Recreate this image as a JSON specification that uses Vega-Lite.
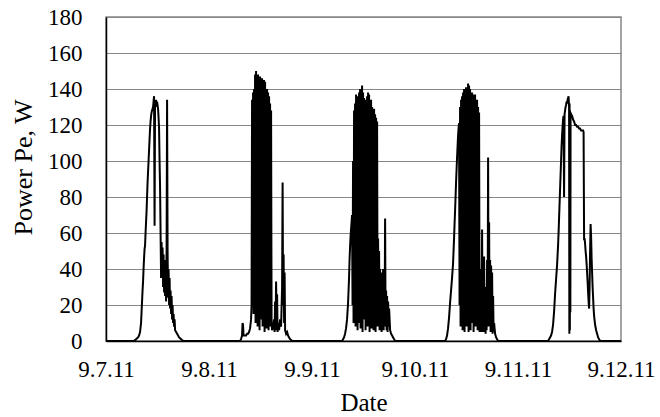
{
"$schema": "https://vega.github.io/schema/vega-lite/v6.json",
"width": 515, "height": 324,
"autosize": {"type": "none"},
"padding": {"left": 106, "top": 17, "right": 39, "bottom": 76},
"background": "white",
"config": {"view": {"stroke": "#878787", "strokeWidth": 1.5}, "font": "Liberation Serif"},
"data": {"values": [
{"t":"2011-09-07T00:00","p":0},{"t":"2011-09-07T06:32","p":0},{"t":"2011-09-07T06:46","p":0.5},{"t":"2011-09-07T07:00","p":1},{"t":"2011-09-07T07:14","p":1.5},{"t":"2011-09-07T07:28","p":2},{"t":"2011-09-07T07:42","p":3},{"t":"2011-09-07T07:56","p":5},{"t":"2011-09-07T08:10","p":10},{"t":"2011-09-07T08:17","p":16},{"t":"2011-09-07T08:24","p":22},{"t":"2011-09-07T08:31","p":28},{"t":"2011-09-07T08:38","p":33},{"t":"2011-09-07T08:45","p":40},{"t":"2011-09-07T08:52","p":46},{"t":"2011-09-07T08:59","p":51},{"t":"2011-09-07T09:06","p":53},{"t":"2011-09-07T09:13","p":60},{"t":"2011-09-07T09:20","p":66},{"t":"2011-09-07T09:27","p":72},{"t":"2011-09-07T09:34","p":80},{"t":"2011-09-07T09:41","p":88},{"t":"2011-09-07T09:48","p":94},{"t":"2011-09-07T09:55","p":100},{"t":"2011-09-07T10:02","p":106},{"t":"2011-09-07T10:09","p":112},{"t":"2011-09-07T10:16","p":118},{"t":"2011-09-07T10:23","p":122},{"t":"2011-09-07T10:30","p":125},{"t":"2011-09-07T10:37","p":127},{"t":"2011-09-07T10:44","p":128},{"t":"2011-09-07T10:51","p":129},{"t":"2011-09-07T10:58","p":130},{"t":"2011-09-07T11:05","p":133},{"t":"2011-09-07T11:12","p":136},{"t":"2011-09-07T11:19","p":64},{"t":"2011-09-07T11:26","p":134},{"t":"2011-09-07T11:33","p":132},{"t":"2011-09-07T11:40","p":134},{"t":"2011-09-07T11:47","p":130},{"t":"2011-09-07T11:54","p":133},{"t":"2011-09-07T12:01","p":131},{"t":"2011-09-07T12:08","p":129},{"t":"2011-09-07T12:15","p":124},{"t":"2011-09-07T12:22","p":118},{"t":"2011-09-07T12:29","p":100},{"t":"2011-09-07T12:36","p":85},{"t":"2011-09-07T12:43","p":60},{"t":"2011-09-07T12:50","p":35},{"t":"2011-09-07T12:57","p":55},{"t":"2011-09-07T13:04","p":40},{"t":"2011-09-07T13:11","p":52},{"t":"2011-09-07T13:18","p":30},{"t":"2011-09-07T13:25","p":48},{"t":"2011-09-07T13:32","p":27},{"t":"2011-09-07T13:39","p":45},{"t":"2011-09-07T13:46","p":25},{"t":"2011-09-07T13:53","p":40},{"t":"2011-09-07T14:00","p":22},{"t":"2011-09-07T14:07","p":50},{"t":"2011-09-07T14:14","p":134},{"t":"2011-09-07T14:21","p":50},{"t":"2011-09-07T14:28","p":24},{"t":"2011-09-07T14:35","p":40},{"t":"2011-09-07T14:42","p":20},{"t":"2011-09-07T14:49","p":35},{"t":"2011-09-07T14:56","p":18},{"t":"2011-09-07T15:03","p":28},{"t":"2011-09-07T15:10","p":15},{"t":"2011-09-07T15:17","p":25},{"t":"2011-09-07T15:24","p":12},{"t":"2011-09-07T15:31","p":20},{"t":"2011-09-07T15:38","p":10},{"t":"2011-09-07T15:45","p":15},{"t":"2011-09-07T15:52","p":8},{"t":"2011-09-07T15:59","p":12},{"t":"2011-09-07T16:06","p":6},{"t":"2011-09-07T16:20","p":5},{"t":"2011-09-07T16:34","p":4},{"t":"2011-09-07T16:48","p":3},{"t":"2011-09-07T17:02","p":2},{"t":"2011-09-07T17:16","p":1.5},{"t":"2011-09-07T17:30","p":1},{"t":"2011-09-07T17:44","p":0.5},{"t":"2011-09-07T17:58","p":0},
{"t":"2011-09-08T07:14","p":0},{"t":"2011-09-08T07:28","p":1},{"t":"2011-09-08T07:42","p":3},{"t":"2011-09-08T07:49","p":10},{"t":"2011-09-08T07:56","p":9},{"t":"2011-09-08T08:03","p":3},{"t":"2011-09-08T08:10","p":3},{"t":"2011-09-08T08:24","p":3},{"t":"2011-09-08T08:38","p":3},{"t":"2011-09-08T08:52","p":4},{"t":"2011-09-08T09:06","p":4},{"t":"2011-09-08T09:20","p":5},{"t":"2011-09-08T09:34","p":7},{"t":"2011-09-08T09:48","p":12},{"t":"2011-09-08T09:55","p":20},{"t":"2011-09-08T10:02","p":134},{"t":"2011-09-08T10:09","p":40},{"t":"2011-09-08T10:16","p":138},{"t":"2011-09-08T10:23","p":15},{"t":"2011-09-08T10:30","p":140},{"t":"2011-09-08T10:37","p":30},{"t":"2011-09-08T10:44","p":148},{"t":"2011-09-08T10:51","p":10},{"t":"2011-09-08T10:58","p":150},{"t":"2011-09-08T11:05","p":20},{"t":"2011-09-08T11:12","p":145},{"t":"2011-09-08T11:19","p":8},{"t":"2011-09-08T11:26","p":148},{"t":"2011-09-08T11:33","p":25},{"t":"2011-09-08T11:40","p":142},{"t":"2011-09-08T11:47","p":6},{"t":"2011-09-08T11:54","p":147},{"t":"2011-09-08T12:01","p":12},{"t":"2011-09-08T12:08","p":140},{"t":"2011-09-08T12:15","p":30},{"t":"2011-09-08T12:22","p":146},{"t":"2011-09-08T12:29","p":8},{"t":"2011-09-08T12:36","p":135},{"t":"2011-09-08T12:43","p":15},{"t":"2011-09-08T12:50","p":145},{"t":"2011-09-08T12:57","p":5},{"t":"2011-09-08T13:04","p":144},{"t":"2011-09-08T13:11","p":20},{"t":"2011-09-08T13:18","p":130},{"t":"2011-09-08T13:25","p":7},{"t":"2011-09-08T13:32","p":140},{"t":"2011-09-08T13:39","p":12},{"t":"2011-09-08T13:46","p":138},{"t":"2011-09-08T13:53","p":6},{"t":"2011-09-08T14:00","p":136},{"t":"2011-09-08T14:07","p":18},{"t":"2011-09-08T14:14","p":132},{"t":"2011-09-08T14:21","p":8},{"t":"2011-09-08T14:28","p":128},{"t":"2011-09-08T14:35","p":10},{"t":"2011-09-08T14:42","p":6},{"t":"2011-09-08T14:56","p":8},{"t":"2011-09-08T15:10","p":12},{"t":"2011-09-08T15:17","p":5},{"t":"2011-09-08T15:24","p":22},{"t":"2011-09-08T15:31","p":6},{"t":"2011-09-08T15:38","p":33},{"t":"2011-09-08T15:45","p":8},{"t":"2011-09-08T15:52","p":26},{"t":"2011-09-08T15:59","p":5},{"t":"2011-09-08T16:06","p":10},{"t":"2011-09-08T16:20","p":6},{"t":"2011-09-08T16:34","p":12},{"t":"2011-09-08T16:48","p":8},{"t":"2011-09-08T17:02","p":30},{"t":"2011-09-08T17:09","p":88},{"t":"2011-09-08T17:16","p":20},{"t":"2011-09-08T17:23","p":48},{"t":"2011-09-08T17:30","p":10},{"t":"2011-09-08T17:37","p":38},{"t":"2011-09-08T17:44","p":6},{"t":"2011-09-08T17:58","p":4},{"t":"2011-09-08T18:12","p":5},{"t":"2011-09-08T18:26","p":3},{"t":"2011-09-08T18:40","p":2},{"t":"2011-09-08T18:54","p":1},{"t":"2011-09-08T19:08","p":0.5},{"t":"2011-09-08T19:22","p":0},
{"t":"2011-09-09T07:00","p":0},{"t":"2011-09-09T07:14","p":1},{"t":"2011-09-09T07:28","p":2},{"t":"2011-09-09T07:42","p":4},{"t":"2011-09-09T07:56","p":7},{"t":"2011-09-09T08:10","p":12},{"t":"2011-09-09T08:24","p":21},{"t":"2011-09-09T08:38","p":35},{"t":"2011-09-09T08:45","p":45},{"t":"2011-09-09T08:52","p":52},{"t":"2011-09-09T08:59","p":58},{"t":"2011-09-09T09:06","p":62},{"t":"2011-09-09T09:13","p":66},{"t":"2011-09-09T09:20","p":70},{"t":"2011-09-09T09:27","p":20},{"t":"2011-09-09T09:34","p":100},{"t":"2011-09-09T09:41","p":10},{"t":"2011-09-09T09:48","p":128},{"t":"2011-09-09T09:55","p":25},{"t":"2011-09-09T10:02","p":132},{"t":"2011-09-09T10:09","p":8},{"t":"2011-09-09T10:16","p":137},{"t":"2011-09-09T10:23","p":15},{"t":"2011-09-09T10:30","p":130},{"t":"2011-09-09T10:37","p":6},{"t":"2011-09-09T10:44","p":136},{"t":"2011-09-09T10:51","p":35},{"t":"2011-09-09T10:58","p":138},{"t":"2011-09-09T11:05","p":10},{"t":"2011-09-09T11:12","p":140},{"t":"2011-09-09T11:19","p":7},{"t":"2011-09-09T11:26","p":139},{"t":"2011-09-09T11:33","p":20},{"t":"2011-09-09T11:40","p":142},{"t":"2011-09-09T11:47","p":5},{"t":"2011-09-09T11:54","p":138},{"t":"2011-09-09T12:01","p":12},{"t":"2011-09-09T12:08","p":135},{"t":"2011-09-09T12:15","p":30},{"t":"2011-09-09T12:22","p":134},{"t":"2011-09-09T12:29","p":6},{"t":"2011-09-09T12:36","p":130},{"t":"2011-09-09T12:43","p":15},{"t":"2011-09-09T12:50","p":136},{"t":"2011-09-09T12:57","p":8},{"t":"2011-09-09T13:04","p":138},{"t":"2011-09-09T13:11","p":25},{"t":"2011-09-09T13:18","p":137},{"t":"2011-09-09T13:25","p":5},{"t":"2011-09-09T13:32","p":132},{"t":"2011-09-09T13:39","p":12},{"t":"2011-09-09T13:46","p":134},{"t":"2011-09-09T13:53","p":7},{"t":"2011-09-09T14:00","p":130},{"t":"2011-09-09T14:07","p":20},{"t":"2011-09-09T14:14","p":128},{"t":"2011-09-09T14:21","p":6},{"t":"2011-09-09T14:28","p":129},{"t":"2011-09-09T14:35","p":10},{"t":"2011-09-09T14:42","p":126},{"t":"2011-09-09T14:49","p":5},{"t":"2011-09-09T14:56","p":124},{"t":"2011-09-09T15:03","p":15},{"t":"2011-09-09T15:10","p":122},{"t":"2011-09-09T15:17","p":8},{"t":"2011-09-09T15:24","p":57},{"t":"2011-09-09T15:31","p":10},{"t":"2011-09-09T15:38","p":50},{"t":"2011-09-09T15:45","p":6},{"t":"2011-09-09T15:52","p":40},{"t":"2011-09-09T15:59","p":12},{"t":"2011-09-09T16:06","p":38},{"t":"2011-09-09T16:13","p":5},{"t":"2011-09-09T16:20","p":32},{"t":"2011-09-09T16:27","p":8},{"t":"2011-09-09T16:34","p":40},{"t":"2011-09-09T16:41","p":6},{"t":"2011-09-09T16:48","p":30},{"t":"2011-09-09T16:55","p":10},{"t":"2011-09-09T17:02","p":68},{"t":"2011-09-09T17:09","p":8},{"t":"2011-09-09T17:16","p":28},{"t":"2011-09-09T17:23","p":6},{"t":"2011-09-09T17:30","p":25},{"t":"2011-09-09T17:37","p":5},{"t":"2011-09-09T17:44","p":22},{"t":"2011-09-09T17:51","p":8},{"t":"2011-09-09T17:58","p":18},{"t":"2011-09-09T18:12","p":6},{"t":"2011-09-09T18:26","p":4},{"t":"2011-09-09T18:40","p":3},{"t":"2011-09-09T18:54","p":2},{"t":"2011-09-09T19:08","p":1},{"t":"2011-09-09T19:22","p":0},
{"t":"2011-09-10T07:00","p":0},{"t":"2011-09-10T07:14","p":1},{"t":"2011-09-10T07:28","p":3},{"t":"2011-09-10T07:42","p":7},{"t":"2011-09-10T07:56","p":13},{"t":"2011-09-10T08:10","p":21},{"t":"2011-09-10T08:24","p":28},{"t":"2011-09-10T08:38","p":35},{"t":"2011-09-10T08:52","p":43},{"t":"2011-09-10T08:59","p":50},{"t":"2011-09-10T09:06","p":57},{"t":"2011-09-10T09:13","p":65},{"t":"2011-09-10T09:20","p":72},{"t":"2011-09-10T09:27","p":80},{"t":"2011-09-10T09:34","p":88},{"t":"2011-09-10T09:41","p":95},{"t":"2011-09-10T09:48","p":102},{"t":"2011-09-10T09:55","p":108},{"t":"2011-09-10T10:02","p":114},{"t":"2011-09-10T10:09","p":118},{"t":"2011-09-10T10:16","p":121},{"t":"2011-09-10T10:23","p":20},{"t":"2011-09-10T10:30","p":130},{"t":"2011-09-10T10:37","p":8},{"t":"2011-09-10T10:44","p":134},{"t":"2011-09-10T10:51","p":25},{"t":"2011-09-10T10:58","p":136},{"t":"2011-09-10T11:05","p":6},{"t":"2011-09-10T11:12","p":138},{"t":"2011-09-10T11:19","p":15},{"t":"2011-09-10T11:26","p":140},{"t":"2011-09-10T11:33","p":5},{"t":"2011-09-10T11:40","p":137},{"t":"2011-09-10T11:47","p":30},{"t":"2011-09-10T11:54","p":141},{"t":"2011-09-10T12:01","p":8},{"t":"2011-09-10T12:08","p":139},{"t":"2011-09-10T12:15","p":12},{"t":"2011-09-10T12:22","p":143},{"t":"2011-09-10T12:29","p":5},{"t":"2011-09-10T12:36","p":142},{"t":"2011-09-10T12:43","p":20},{"t":"2011-09-10T12:50","p":140},{"t":"2011-09-10T12:57","p":6},{"t":"2011-09-10T13:04","p":136},{"t":"2011-09-10T13:11","p":10},{"t":"2011-09-10T13:18","p":138},{"t":"2011-09-10T13:25","p":25},{"t":"2011-09-10T13:32","p":137},{"t":"2011-09-10T13:39","p":5},{"t":"2011-09-10T13:46","p":135},{"t":"2011-09-10T13:53","p":15},{"t":"2011-09-10T14:00","p":137},{"t":"2011-09-10T14:07","p":8},{"t":"2011-09-10T14:14","p":132},{"t":"2011-09-10T14:21","p":40},{"t":"2011-09-10T14:28","p":134},{"t":"2011-09-10T14:35","p":6},{"t":"2011-09-10T14:42","p":130},{"t":"2011-09-10T14:49","p":12},{"t":"2011-09-10T14:56","p":127},{"t":"2011-09-10T15:03","p":5},{"t":"2011-09-10T15:10","p":40},{"t":"2011-09-10T15:17","p":8},{"t":"2011-09-10T15:24","p":20},{"t":"2011-09-10T15:31","p":5},{"t":"2011-09-10T15:38","p":62},{"t":"2011-09-10T15:45","p":10},{"t":"2011-09-10T15:52","p":35},{"t":"2011-09-10T15:59","p":5},{"t":"2011-09-10T16:06","p":47},{"t":"2011-09-10T16:13","p":8},{"t":"2011-09-10T16:20","p":25},{"t":"2011-09-10T16:27","p":4},{"t":"2011-09-10T16:34","p":30},{"t":"2011-09-10T16:41","p":6},{"t":"2011-09-10T16:48","p":45},{"t":"2011-09-10T16:55","p":8},{"t":"2011-09-10T17:02","p":102},{"t":"2011-09-10T17:09","p":10},{"t":"2011-09-10T17:16","p":66},{"t":"2011-09-10T17:23","p":8},{"t":"2011-09-10T17:30","p":45},{"t":"2011-09-10T17:37","p":5},{"t":"2011-09-10T17:44","p":42},{"t":"2011-09-10T17:51","p":6},{"t":"2011-09-10T17:58","p":38},{"t":"2011-09-10T18:05","p":4},{"t":"2011-09-10T18:12","p":25},{"t":"2011-09-10T18:19","p":5},{"t":"2011-09-10T18:26","p":10},{"t":"2011-09-10T18:40","p":4},{"t":"2011-09-10T18:54","p":2},{"t":"2011-09-10T19:08","p":1},{"t":"2011-09-10T19:22","p":0},
{"t":"2011-09-11T07:00","p":0},{"t":"2011-09-11T07:14","p":1},{"t":"2011-09-11T07:28","p":2},{"t":"2011-09-11T07:42","p":3},{"t":"2011-09-11T07:56","p":5},{"t":"2011-09-11T08:10","p":9},{"t":"2011-09-11T08:24","p":16},{"t":"2011-09-11T08:38","p":26},{"t":"2011-09-11T08:52","p":34},{"t":"2011-09-11T09:06","p":42},{"t":"2011-09-11T09:20","p":53},{"t":"2011-09-11T09:27","p":60},{"t":"2011-09-11T09:34","p":68},{"t":"2011-09-11T09:41","p":76},{"t":"2011-09-11T09:48","p":84},{"t":"2011-09-11T09:55","p":92},{"t":"2011-09-11T10:02","p":100},{"t":"2011-09-11T10:09","p":108},{"t":"2011-09-11T10:16","p":114},{"t":"2011-09-11T10:23","p":119},{"t":"2011-09-11T10:30","p":123},{"t":"2011-09-11T10:37","p":125},{"t":"2011-09-11T10:44","p":80},{"t":"2011-09-11T10:51","p":126},{"t":"2011-09-11T10:58","p":128},{"t":"2011-09-11T11:05","p":130},{"t":"2011-09-11T11:12","p":131},{"t":"2011-09-11T11:19","p":133},{"t":"2011-09-11T11:26","p":132},{"t":"2011-09-11T11:33","p":134},{"t":"2011-09-11T11:40","p":135},{"t":"2011-09-11T11:47","p":136},{"t":"2011-09-11T11:54","p":130},{"t":"2011-09-11T11:58","p":4},{"t":"2011-09-11T12:01","p":132},{"t":"2011-09-11T12:05","p":6},{"t":"2011-09-11T12:08","p":128},{"t":"2011-09-11T12:12","p":16},{"t":"2011-09-11T12:15","p":127},{"t":"2011-09-11T12:22","p":126},{"t":"2011-09-11T12:36","p":125},{"t":"2011-09-11T12:50","p":123},{"t":"2011-09-11T13:04","p":122},{"t":"2011-09-11T13:18","p":120},{"t":"2011-09-11T13:32","p":120},{"t":"2011-09-11T13:46","p":119},{"t":"2011-09-11T14:00","p":119},{"t":"2011-09-11T14:14","p":118},{"t":"2011-09-11T14:28","p":118},{"t":"2011-09-11T14:42","p":117},{"t":"2011-09-11T14:56","p":117},{"t":"2011-09-11T15:10","p":117},{"t":"2011-09-11T15:17","p":116},{"t":"2011-09-11T15:24","p":56},{"t":"2011-09-11T15:31","p":57},{"t":"2011-09-11T15:38","p":54},{"t":"2011-09-11T15:45","p":50},{"t":"2011-09-11T15:52","p":47},{"t":"2011-09-11T15:59","p":43},{"t":"2011-09-11T16:06","p":38},{"t":"2011-09-11T16:13","p":33},{"t":"2011-09-11T16:20","p":27},{"t":"2011-09-11T16:27","p":22},{"t":"2011-09-11T16:34","p":18},{"t":"2011-09-11T16:41","p":30},{"t":"2011-09-11T16:48","p":50},{"t":"2011-09-11T16:55","p":65},{"t":"2011-09-11T17:02","p":58},{"t":"2011-09-11T17:09","p":46},{"t":"2011-09-11T17:16","p":38},{"t":"2011-09-11T17:23","p":30},{"t":"2011-09-11T17:30","p":24},{"t":"2011-09-11T17:37","p":18},{"t":"2011-09-11T17:44","p":14},{"t":"2011-09-11T17:58","p":9},{"t":"2011-09-11T18:12","p":6},{"t":"2011-09-11T18:26","p":4},{"t":"2011-09-11T18:40","p":2},{"t":"2011-09-11T18:54","p":1},{"t":"2011-09-11T19:08","p":0},
{"t":"2011-09-12T00:00","p":0}
]},
"mark": {"type": "line", "color": "black", "strokeWidth": 2},
"encoding": {
"x": {"field": "t", "type": "temporal",
 "scale": {"domain": [{"year": 2011, "month": 9, "date": 7}, {"year": 2011, "month": 9, "date": 12}], "nice": false},
 "axis": {"title": "Date", "format": "%-m.%-d.%y", "tickCount": {"interval": "day", "step": 1}, "grid": false, "ticks": false, "domainColor": "black", "domainWidth": 1.5, "labelFont": "Liberation Serif", "labelFontSize": 23, "labelColor": "black", "labelPadding": 17, "labelFlush": false, "labelOverlap": false, "titleFont": "Liberation Serif", "titleFontSize": 25, "titleFontWeight": "normal", "titleColor": "black", "titlePadding": 9}},
"y": {"field": "p", "type": "quantitative",
 "scale": {"domain": [0, 180], "nice": false},
 "axis": {"title": "Power Pe, W", "values": [0, 20, 40, 60, 80, 100, 120, 140, 160, 180], "grid": true, "gridColor": "#878787", "gridWidth": 1.2, "gridOpacity": 1, "ticks": false, "domainColor": "black", "domainWidth": 1.5, "labelFont": "Liberation Serif", "labelFontSize": 23, "labelColor": "black", "labelPadding": 24, "titleFont": "Liberation Serif", "titleFontSize": 26, "titleFontWeight": "normal", "titleColor": "black", "titleAngle": -90, "titleX": -83, "titleY": 150, "titleBaseline": "middle", "titleAlign": "center"}}
}
}
